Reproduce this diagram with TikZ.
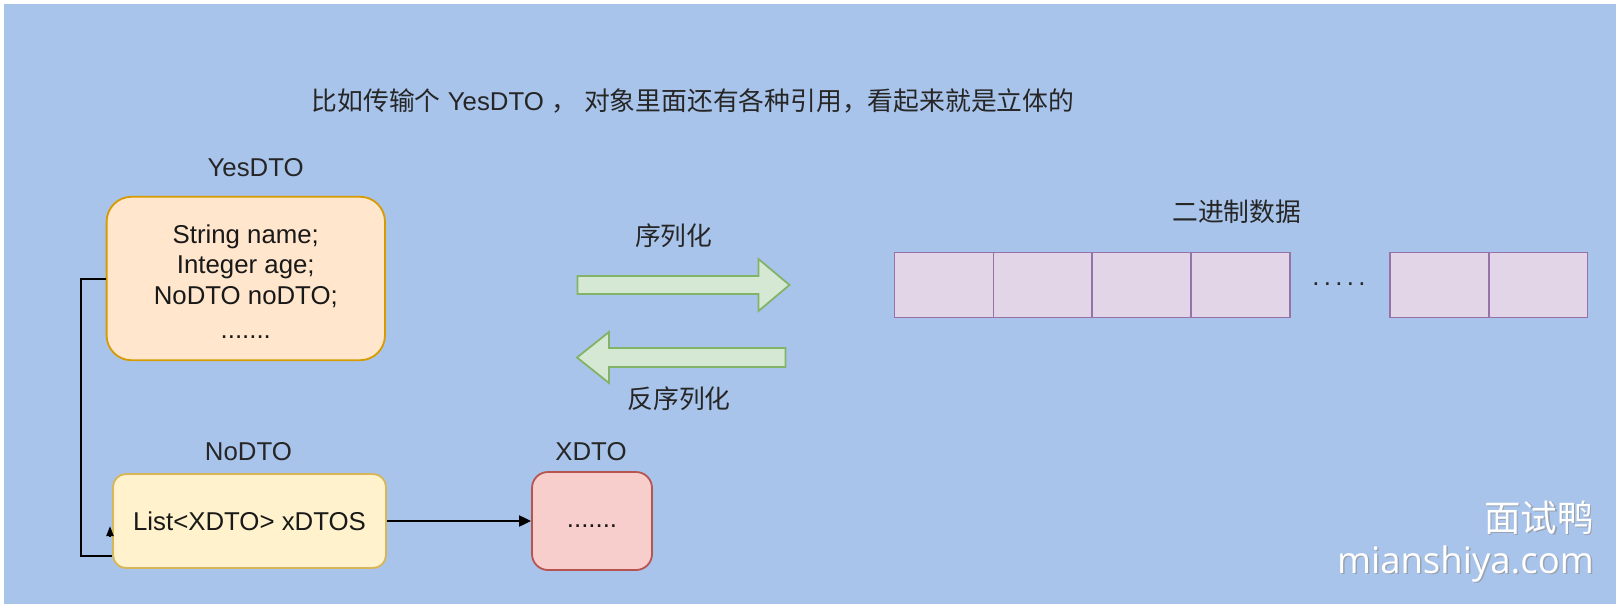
\documentclass[tikz,border=0pt]{standalone}
\usepackage{fontspec}
\setmainfont{Liberation Sans}
\newfontfamily\cjk{Noto Sans CJK SC}
\newfontfamily\wmfont{Open Sans}
\usetikzlibrary{arrows.meta}
\definecolor{bgblue}{HTML}{A9C4EB}
\definecolor{yesfill}{HTML}{FFE6CC}
\definecolor{yesline}{HTML}{D79B00}
\definecolor{nofill}{HTML}{FFF2CC}
\definecolor{noline}{HTML}{D6B656}
\definecolor{xfill}{HTML}{F8CECC}
\definecolor{xline}{HTML}{B85450}
\definecolor{datafill}{HTML}{E1D5E7}
\definecolor{dataline}{HTML}{9673A6}
\definecolor{arrfill}{HTML}{D5E8D4}
\definecolor{arrline}{HTML}{82B366}
\tikzset{
  lbl/.style={font=\fontsize{25.8}{30.5}\selectfont, text=black!85, inner sep=0pt},
  boxtxt/.style={font=\fontsize{25.8}{30.5}\selectfont, text=black!90, align=center},
  yesbox/.style={boxtxt, draw=yesline, fill=yesfill, line width=1.8pt, rounded corners=25pt, minimum width=278.4pt, minimum height=163.5pt},
  nobox/.style={boxtxt, draw=noline, fill=nofill, line width=1.8pt, rounded corners=13pt, minimum width=273pt, minimum height=94pt},
  xbox/.style={boxtxt, draw=xline, fill=xfill, line width=1.8pt, rounded corners=16pt, minimum width=120pt, minimum height=98pt},
  databox/.style={draw=dataline, fill=datafill, line width=1.5pt, minimum width=98.8pt, minimum height=65pt, inner sep=0pt},
  bigarrow/.style={draw=arrline, fill=arrfill, line width=1.8pt, line join=miter},
  conn/.style={draw=black, line width=2pt},
  wm/.style={text=white, inner sep=0pt, anchor=east},
  wmshadow/.style={text=black!45, opacity=0.6, inner sep=0pt, anchor=east}
}
\begin{document}
\begin{tikzpicture}[x=1pt,y=-1pt]
\useasboundingbox (0,0) rectangle (1623,610);
\fill[white] (0,0) rectangle (1623,610);
\fill[bgblue] (4,4) rectangle (1616,604);

% title
\node[lbl] (title) at (693,100.5) {{\cjk 比如传输个} YesDTO {\cjk ，} {\cjk 对象里面还有各种引用，看起来就是立体的}};

% YesDTO
\node[lbl] (yeslbl) at (255.6,167.7) {YesDTO};
\node[yesbox] (yes) at (245.8,278.5) {\rule{0pt}{25pt}String name;\\Integer age;\\NoDTO noDTO;\\[4pt].......};

% NoDTO and XDTO
\node[lbl] (nolbl) at (248.4,451.3) {NoDTO};
\node[nobox] (no) at (249.5,521) {List<XDTO> xDTOS};
\node[lbl] (xlbl) at (591,451.3) {XDTO};
\node[xbox] (x) at (592,521) {\vphantom{Ag}.......};
\draw[conn, -{Triangle[length=12pt,width=11pt]}] (no.east) -- (x.west);

% connector from YesDTO to NoDTO
\coordinate (bendA) at (80.5,556);
\coordinate (hookbase) at (110,536);
\coordinate (hook) at (110,526);
\draw[conn] (yes.west) -| (bendA) -- (bendA -| no.west);
\draw[conn, -{Triangle[length=10pt,width=7pt]}] (hookbase) -- (hook);

% serialization arrows
\node[lbl] (serlbl) at (673.8,236) {\cjk 序列化};
\draw[bigarrow] (577.5,276) -- (758.5,276) -- (758.5,259) -- (789.5,285) -- (758.5,311) -- (758.5,294) -- (577.5,294) -- cycle;
\draw[bigarrow] (785.5,348) -- (609,348) -- (609,332) -- (577,357.5) -- (609,383) -- (609,367) -- (785.5,367) -- cycle;
\node[lbl] (deserlbl) at (679,398.5) {\cjk 反序列化};

% binary data
\node[lbl] (binlbl) at (1236.8,212.2) {\cjk 二进制数据};
\node[databox] (d1) at (944,285) {};
\node[databox] (d2) at (1042.8,285) {};
\node[databox] (d3) at (1141.6,285) {};
\node[databox] (d4) at (1240.4,285) {};
\node[lbl] (dots) at (1339,284) {.\,.\,.\,.\,.};
\node[databox] (d5) at (1439.4,285) {};
\node[databox] (d6) at (1538.2,285) {};

% watermark
\node[wmshadow, font=\cjk\fontsize{36.5}{36.5}\selectfont] at (1595.5,519) {面试鸭};
\node[wm, font=\cjk\fontsize{36.5}{36.5}\selectfont] (wm1) at (1594,517.5) {面试鸭};
\node[wmshadow, font=\wmfont\fontsize{36.5}{36.5}\selectfont] at (1595.5,565.5) {mianshiya.com};
\node[wm, font=\wmfont\fontsize{36.5}{36.5}\selectfont] (wm2) at (1594,564) {mianshiya.com};
\end{tikzpicture}
\end{document}
